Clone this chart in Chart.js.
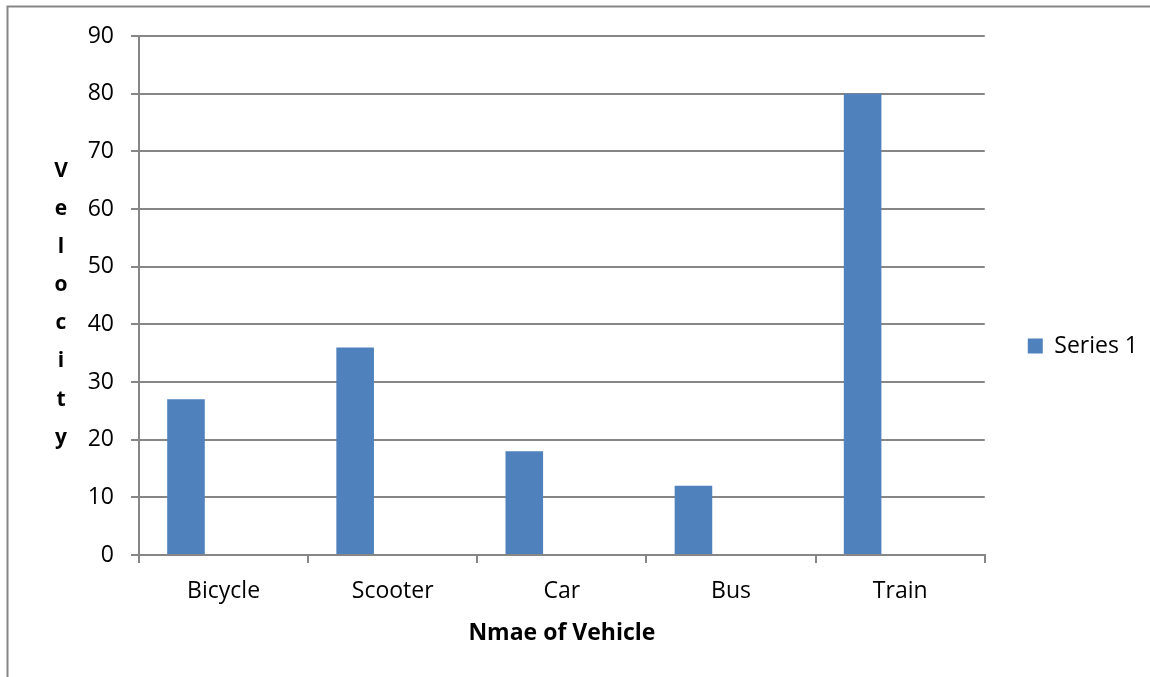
<!DOCTYPE html>
<html>
<head>
<meta charset="utf-8">
<title>Velocity by vehicle</title>
<script src="https://cdn.jsdelivr.net/npm/chart.js@4.4.1/dist/chart.umd.min.js"></script>
<style>
  html,body{margin:0;padding:0;background:#fff}
  #wrap{width:1150px;height:677px;position:relative}
</style>
</head>
<body>
<div id="wrap"><canvas id="chart" width="1150" height="677"></canvas></div>
<script>
// data
const vehicles = ['Bicycle', 'Scooter', 'Car', 'Bus', 'Train'];
const series1 = [27, 36, 18, 12, 80];
const yTicks = [0, 10, 20, 30, 40, 50, 60, 70, 80, 90];
const xTitle = 'Nmae of Vehicle';
const yTitle = 'Velocity';

const GRID = '#868686';
const FONT = "'Open Sans', sans-serif";

// frame lines (top + left, rest is cropped) and the stacked y title
const decor = {
  id: 'decor',
  afterDraw(chart){
    const ctx = chart.ctx, area = chart.chartArea;
    ctx.save();
    ctx.strokeStyle = GRID;
    ctx.lineWidth = 2;
    ctx.beginPath();
    ctx.moveTo(7.5, 677); ctx.lineTo(7.5, 6.5); ctx.lineTo(1150, 6.5);
    ctx.stroke();
    ctx.fillStyle = '#000';
    ctx.font = "bold 21px " + FONT;
    ctx.textAlign = 'center';
    ctx.textBaseline = 'middle';
    const letters = yTitle.split('');
    for(let i=0;i<letters.length;i++){
      ctx.fillText(letters[i], 61, area.top + 135 + i*38.1);
    }
    ctx.restore();
  }
};

new Chart(document.getElementById('chart').getContext('2d'), {
  type: 'bar',
  data: {
    labels: vehicles,
    datasets: [
      {label: 'Series 1', data: series1, backgroundColor: '#4F81BD'},
      // Excel left room for two empty series beside each bar
      {label: 'Series 2', data: vehicles.map(()=>null), backgroundColor: '#C0504D'},
      {label: 'Series 3', data: vehicles.map(()=>null), backgroundColor: '#9BBB59'}
    ]
  },
  options: {
    responsive: false,
    animation: false,
    layout: {padding: {top: 27, left: 20, right: 2, bottom: 12}},
    datasets: {bar: {categoryPercentage: 3/4.5, barPercentage: 1}},
    plugins: {
      tooltip: {enabled: false},
      legend: {
        position: 'right',
        labels: {
          filter: (item)=> item.datasetIndex === 0,
          boxWidth: 15, boxHeight: 15, padding: 43,
          color: '#000', font: {family: FONT, size: 23}
        }
      }
    },
    scales: {
      x: {
        grid: {offset: true, drawOnChartArea: false, drawTicks: true, tickLength: 8, color: GRID, lineWidth: 2},
        border: {color: GRID, width: 2},
        ticks: {color: '#000', font: {family: FONT, size: 23}, padding: 15, maxRotation: 0},
        title: {display: true, text: xTitle, color: '#000', font: {family: FONT, size: 23, weight: 'bold'}, padding: {top: 4, bottom: 18}},
        afterFit(s){ s.height = 677 - 12 - 555; }
      },
      y: {
        min: 0, max: 90,
        afterBuildTicks(s){ s.ticks = yTicks.map(v=>({value: v})); },
        grid: {color: GRID, lineWidth: 2, tickLength: 8},
        border: {color: GRID, width: 2},
        ticks: {color: '#000', font: {family: FONT, size: 23}, padding: 17},
        afterFit(s){ s.width = 139 - 20; s.paddingTop = 36; }
      }
    }
  },
  plugins: [decor]
});
</script>
</body>
</html>
